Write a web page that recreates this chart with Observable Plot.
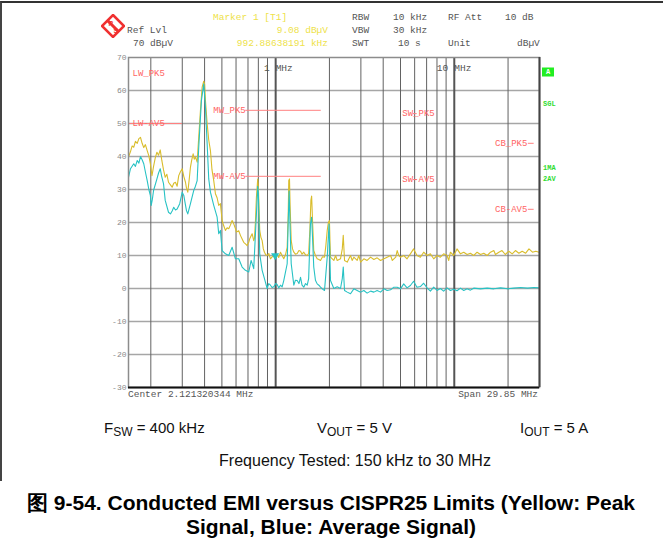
<!DOCTYPE html>
<html><head><meta charset="utf-8">
<script src="https://cdn.jsdelivr.net/npm/d3@7"></script>
<script src="https://cdn.jsdelivr.net/npm/@observablehq/plot@0.6"></script>
<style>
body{margin:0;background:#fff;}
#wrap{position:relative;width:663px;height:548px;overflow:hidden;font-family:"Liberation Sans",Arial,sans-serif;}
#chart{position:absolute;left:0;top:0;}
.t{position:absolute;white-space:pre;line-height:1;transform:translateY(-50%);}
.r{transform:translate(-100%,-50%);}
.c{transform:translate(-50%,-50%);}
.m{font-family:"Liberation Mono",monospace;font-size:9.5px;color:#555;}
.y{color:#eee24a;}
.g{font-family:"Liberation Mono",monospace;font-size:7px;font-weight:bold;color:#2fdc2f;}
.s{font-size:15px;color:#111;}
.s sub{font-size:12px;vertical-align:-3px;}
.cap{font-size:21px;font-weight:bold;color:#000;}
#border{position:absolute;left:0;top:1px;width:700px;height:478px;border-left:2px solid #444;border-top:2px solid #333;}
</style></head>
<body><div id="wrap">
<div id="border"></div>
<div id="chart"></div>
<svg style="position:absolute;left:101px;top:14px" width="24" height="24" viewBox="0 0 24 24">
  <polygon points="12,1 23,12 12,23 1,12" fill="none" stroke="#f03030" stroke-width="2.5"/>
  <line x1="6" y1="6" x2="18" y2="18" stroke="#f03030" stroke-width="3"/>
  <text x="7.5" y="12" font-size="6.5" font-weight="bold" fill="#f03030" font-family="Liberation Sans">R</text>
  <text x="12.5" y="19" font-size="6.5" font-weight="bold" fill="#f03030" font-family="Liberation Sans">S</text>
</svg>
<span class="t m" style="left:127px;top:31px">Ref Lvl</span>
<span class="t m" style="left:133px;top:44px">70 dBµV</span>
<span class="t m y" style="left:213px;top:18px">Marker 1 [T1]</span>
<span class="t m y r" style="left:328px;top:31px">9.08 dBµV</span>
<span class="t m y r" style="left:328px;top:44px">992.88638191 kHz</span>
<span class="t m" style="left:352px;top:18px">RBW</span>
<span class="t m" style="left:393px;top:18px">10 kHz</span>
<span class="t m" style="left:448px;top:18px">RF Att</span>
<span class="t m" style="left:505px;top:18px">10 dB</span>
<span class="t m" style="left:352px;top:31px">VBW</span>
<span class="t m" style="left:393px;top:31px">30 kHz</span>
<span class="t m" style="left:352px;top:44px">SWT</span>
<span class="t m" style="left:398px;top:44px">10 s</span>
<span class="t m" style="left:448px;top:44px">Unit</span>
<span class="t m" style="left:517px;top:44px">dBµV</span>
<span class="t m" style="left:128px;top:395px">Center 2.121320344 MHz</span>
<span class="t m r" style="left:538px;top:395px">Span 29.85 MHz</span>
<span class="t g" style="left:542px;top:72px;background:#22ee22;color:#fff;padding:1px 4px;">A</span>
<span class="t g" style="left:543px;top:104px">SGL</span>
<span class="t g" style="left:543px;top:168px">1MA</span>
<span class="t g" style="left:543px;top:179px">2AV</span>
<span class="t s" style="left:104px;top:429px">F<sub>SW</sub> = 400 kHz</span>
<span class="t s" style="left:317px;top:429px">V<sub>OUT</sub> = 5 V</span>
<span class="t s" style="left:520px;top:429px">I<sub>OUT</sub> = 5 A</span>
<span class="t s c" style="left:355px;top:461px;font-size:16px">Frequency Tested: 150 kHz to 30 MHz</span>
<span class="t cap c" style="left:331px;top:502px">图 9-54. Conducted EMI versus CISPR25 Limits (Yellow: Peak</span>
<span class="t cap c" style="left:331px;top:526px">Signal, Blue: Average Signal)</span>
</div>
<script>
// ---- data ----
const yTicks = [70, 60, 50, 40, 30, 20, 10, 0, -10, -20, -30];
const xGridMinor = [0.2, 0.3, 0.4, 0.5, 0.6, 0.7, 0.8, 0.9, 2, 3, 4, 5, 6, 7, 8, 9, 20];
const xGridMajor = [1, 10];
const majorLabelNums = ["1", "10"];

// Peak detector trace (MHz, dBµV)
const peakTrace = [
[0.150,39.8],[0.1539,41.5],[0.1572,43.2],[0.1605,42.8],[0.1640,44.6],[0.1679,44.0],[0.1715,45.4],[0.1751,45.8],[0.1788,44.0],[0.1826,42.7],
[0.1865,43.6],[0.1909,41.8],[0.1950,40.2],[0.1988,37.8],[0.2030,34.2],[0.2050,35.5],[0.2072,37.0],[0.2118,39.6],[0.2164,41.3],[0.2210,40.4],
[0.2258,42.0],[0.2305,38.8],[0.2355,36.0],[0.2408,33.7],[0.2460,34.6],[0.2512,32.2],[0.2576,31.4],[0.2633,30.7],[0.2688,31.9],[0.2747,32.2],
[0.2808,31.0],[0.2866,34.2],[0.2930,35.4],[0.2997,36.3],[0.3059,34.0],[0.3127,32.2],[0.3167,30.4],[0.3221,29.2],[0.3280,33.0],[0.3334,36.8],
[0.3390,39.0],[0.3452,40.8],[0.3500,39.2],[0.3556,39.8],[0.3635,38.3],[0.3710,45.9],[0.3792,53.9],[0.3876,61.0],[0.3957,62.8],[0.4000,62.0],
[0.4044,57.0],[0.4135,49.9],[0.4220,45.0],[0.4313,41.8],[0.4400,36.0],[0.4501,32.7],[0.4600,28.7],[0.4700,27.5],[0.4800,25.2],[0.4906,25.7],
[0.5014,20.6],[0.5120,19.0],[0.5233,17.6],[0.5350,18.4],[0.5461,18.1],[0.5580,19.2],[0.5705,20.6],[0.5824,19.6],[0.5953,18.2],[0.6030,17.1],
[0.6212,17.5],[0.6349,16.1],[0.6490,15.0],[0.6626,14.0],[0.6773,13.5],[0.6923,13.0],[0.7068,14.0],[0.7159,15.1],[0.7289,16.0],[0.7383,16.6],
[0.7537,14.5],[0.7605,15.1],[0.7700,20.0],[0.7803,27.7],[0.7936,33.2],[0.8000,31.0],[0.8143,17.6],[0.8270,15.5],[0.8401,14.5],[0.8530,12.0],
[0.8654,11.0],[0.8800,10.2],[0.8961,10.0],[0.9150,10.6],[0.9351,9.0],[0.9550,9.6],[0.9757,10.0],[0.9929,9.08],[1.0190,10.2],[1.0400,9.4],
[1.0640,11.0],[1.0870,10.0],[1.1100,9.0],[1.1350,10.2],[1.1600,12.5],[1.1750,22.0],[1.1840,32.7],[1.1950,33.2],[1.2050,25.0],[1.2220,14.5],
[1.2430,12.0],[1.2640,11.0],[1.2900,10.4],[1.3200,10.6],[1.3500,11.5],[1.3780,11.3],[1.4050,10.4],[1.4370,11.0],[1.4700,10.2],[1.5020,10.0],
[1.5300,10.6],[1.5550,18.0],[1.5750,26.7],[1.5900,28.0],[1.6100,20.0],[1.6340,11.5],[1.6700,10.0],[1.7080,9.0],[1.7450,8.8],[1.7830,8.5],
[1.8300,9.6],[1.8770,9.5],[1.9100,13.0],[1.9440,17.6],[1.9750,20.1],[2.0000,20.6],[2.0150,14.0],[2.0280,9.5],[2.117,8.5],[2.164,10.0],
[2.211,8.5],[2.307,9.0],[2.36,12.0],[2.39,16.1],[2.43,8.5],[2.517,8.0],[2.625,10.0],[2.68,8.5],[2.739,9.5],[2.86,8.5],
[2.92,10.0],[2.99,8.0],[3.118,9.0],[3.25,8.5],[3.40,9.5],[3.546,8.8],[3.70,9.3],[3.865,8.5],[4.04,9.0],[4.21,9.5],
[4.40,10.0],[4.50,8.5],[4.70,9.5],[4.79,11.5],[4.89,10.0],[5.00,9.5],[5.21,10.0],[5.44,9.0],[5.68,10.5],[5.92,12.0],
[6.05,11.0],[6.18,10.0],[6.46,9.5],[6.74,11.0],[7.04,10.0],[7.35,10.5],[7.67,9.0],[8.01,10.0],[8.36,9.5],[8.72,10.5],
[9.11,10.0],[9.31,8.5],[9.51,11.0],[9.93,10.0],[10.36,12.0],[10.83,10.5],[11.30,11.0],[11.80,10.3],[12.31,10.7],[12.85,10.0],
[13.42,11.0],[14.02,10.3],[14.63,10.7],[15.28,10.0],[15.96,11.0],[16.65,11.5],[17.0,10.3],[17.76,11.0],[18.5,11.5],[19.3,10.3],
[20.2,11.3],[21.1,10.5],[22.0,11.5],[23.0,10.7],[24.0,11.3],[25.1,10.7],[26.2,12.0],[27.4,11.0],[28.6,11.3],[29.8,11.0],[30,10.8]
];

// Average detector trace (MHz, dBµV)
const avgTrace = [
[0.150,33.7],[0.1539,36.3],[0.1605,37.8],[0.1640,37.0],[0.1679,38.8],[0.1715,38.0],[0.1751,40.0],[0.1788,39.0],[0.1826,37.8],[0.1870,35.0],
[0.1909,32.7],[0.1950,30.0],[0.1988,28.2],[0.2010,25.2],[0.2040,27.0],[0.2072,29.7],[0.2164,33.2],[0.2210,35.0],[0.2258,36.3],[0.2300,34.0],
[0.2355,31.8],[0.2408,26.7],[0.2512,23.1],[0.2576,22.6],[0.2633,23.5],[0.2688,24.6],[0.2747,23.8],[0.2808,24.1],[0.2903,25.7],[0.2997,29.2],
[0.3059,28.2],[0.3167,23.6],[0.3221,22.6],[0.3334,25.7],[0.3479,29.7],[0.3556,31.0],[0.3635,32.7],[0.3710,42.8],[0.3841,57.0],[0.3957,62.0],
[0.4044,55.0],[0.4135,43.8],[0.4220,33.2],[0.4313,29.2],[0.4501,25.2],[0.4702,21.6],[0.4800,16.6],[0.4906,17.6],[0.5014,11.5],[0.5233,10.5],
[0.5461,10.0],[0.5705,12.5],[0.5953,9.0],[0.6212,9.0],[0.6490,6.5],[0.6773,5.5],[0.7068,5.0],[0.7289,8.5],[0.7537,6.0],[0.7803,22.6],
[0.7936,31.0],[0.8000,29.0],[0.8143,10.5],[0.8401,5.5],[0.8654,3.0],[0.8961,0.0],[0.9150,1.5],[0.9351,1.0],[0.9550,0.3],[0.9757,0.5],
[1.000,1.5],[1.019,1.2],[1.040,0.2],[1.064,1.0],[1.087,0.5],[1.110,2.4],[1.160,7.5],[1.175,20.0],[1.190,29.5],[1.205,18.0],
[1.222,7.5],[1.264,1.0],[1.290,2.5],[1.320,2.4],[1.350,1.5],[1.378,3.4],[1.405,1.0],[1.437,0.4],[1.470,1.5],[1.502,1.0],
[1.530,3.0],[1.566,19.6],[1.590,21.6],[1.610,15.0],[1.634,6.5],[1.670,2.5],[1.708,1.4],[1.745,1.0],[1.783,0.4],[1.830,-0.2],
[1.877,-0.6],[1.944,9.5],[1.990,19.5],[2.028,2.4],[2.117,0.0],[2.211,0.5],[2.307,0.0],[2.36,3.0],[2.39,6.5],[2.43,-0.6],
[2.517,-1.1],[2.625,-1.6],[2.739,-0.1],[2.86,-0.6],[2.99,-1.1],[3.118,-0.6],[3.25,-1.4],[3.40,-0.8],[3.546,-1.1],[3.70,-0.6],
[3.865,-1.1],[4.04,-0.1],[4.21,-0.6],[4.40,-0.4],[4.59,0.4],[4.79,0.4],[5.00,-0.1],[5.21,1.4],[5.44,0.2],[5.68,0.9],
[5.92,2.2],[6.18,0.4],[6.46,0.6],[6.74,1.6],[7.04,0.2],[7.35,-0.8],[7.67,0.4],[8.01,-0.6],[8.36,0.0],[8.72,-0.8],
[9.11,0.2],[9.51,-0.6],[9.93,-0.2],[10.36,-0.7],[10.83,0.1],[11.30,-0.6],[11.80,-0.1],[12.31,-0.5],[12.85,0.1],[14.02,-0.1],
[15.28,0.1],[16.65,-0.1],[18.17,0.2],[19.87,-0.1],[21.55,0.1],[23.50,0.3],[25.71,0.1],[27.89,0.3],[30,0.2]
];

// CISPR 25 class 5 limit lines
const limitNames  = ["LW_PK5", "LW-AV5", "MW_PK5", "MW-AV5", "SW_PK5", "SW-AV5", "CB_PK5", "CB-AV5"];
const limitLevels = [70, 50, 54, 34, 53, 33, 44, 24];
const limitStart  = [0.15, 0.15, 0.68, 0.68, 5.9, 5.9, 26, 26];
const limitEnd    = [0.30, 0.30, 1.8, 1.8, 6.2, 6.2, 28, 28];

const markerFreq = [0.99288638191];
const markerLevel = [9.08];

// ---- build ----
const peak = peakTrace.map(([f, v]) => ({f, v}));
const avg = avgTrace.map(([f, v]) => ({f, v}));
const limits = limitNames.map((name, i) => ({name, level: limitLevels[i], f1: limitStart[i], f2: limitEnd[i], band: name.slice(0, 2)}));
const markers = markerFreq.map((f, i) => ({f, v: markerLevel[i]}));
const mono = "Liberation Mono, monospace";
const limColor = "#ff8080";
const limText = "#ff6464";

const chart = Plot.plot({
  width: 663, height: 548,
  marginLeft: 128, marginRight: 124, marginTop: 57, marginBottom: 161,
  x: {type: "log", domain: [0.15, 30], axis: null},
  y: {domain: [-30, 70], axis: null},
  style: {background: "transparent"},
  marks: [
    Plot.ruleY(yTicks.filter(d => d > -30 && d < 70), {y: d => d, stroke: "#a6a6a6", strokeWidth: 1.5}),
    Plot.ruleX(xGridMinor, {x: d => d, stroke: "#626262", strokeWidth: 1}),
    Plot.ruleX(xGridMajor, {x: d => d, stroke: "#555", strokeWidth: 2}),
    Plot.ruleY(limits, {y: "level", x1: "f1", x2: "f2", stroke: limColor, strokeWidth: 1}),
    Plot.text(limits.filter(d => d.band === "LW" && d.level < 70), {x: "f1", y: "level", text: "name", textAnchor: "start", dx: 4, fill: limText, fontFamily: mono, fontSize: 9}),
    Plot.text(limits.filter(d => d.band === "LW" && d.level >= 70), {x: "f1", y: "level", text: "name", textAnchor: "start", dx: 4, dy: 16, fill: limText, fontFamily: mono, fontSize: 9}),
    Plot.text(limits.filter(d => d.band === "MW"), {x: "f1", y: "level", text: "name", textAnchor: "end", dx: 0, fill: limText, fontFamily: mono, fontSize: 9}),
    Plot.text(limits.filter(d => d.band === "SW"), {x: "f1", y: "level", text: "name", textAnchor: "start", dx: -11, fill: limText, fontFamily: mono, fontSize: 9}),
    Plot.text(limits.filter(d => d.band === "CB"), {x: "f1", y: "level", text: "name", textAnchor: "end", dx: -1, fill: limText, fontFamily: mono, fontSize: 9}),
    Plot.line(peak, {x: "f", y: "v", stroke: "#d9bd2c", strokeWidth: 1.1}),
    Plot.line(avg, {x: "f", y: "v", stroke: "#27c2c4", strokeWidth: 1.1}),
    Plot.dot(markers, {x: "f", y: "v", symbol: "triangle", rotate: 180, r: 3, fill: "#27c2c4", dy: -3}),
    Plot.text(xGridMajor, {x: d => d, text: (d, i) => majorLabelNums[i], frameAnchor: "top", dy: 7, textAnchor: "end", dx: -6, fill: "#555", fontFamily: mono, fontSize: 9.5}),
    Plot.text(xGridMajor, {x: d => d, text: () => "MHz", frameAnchor: "top", dy: 7, textAnchor: "start", dx: 0, fill: "#555", fontFamily: mono, fontSize: 9.5}),
    Plot.text(yTicks, {y: d => d, text: d => String(d), frameAnchor: "left", textAnchor: "end", dx: -2, fill: "#8a8a8a", fontFamily: mono, fontSize: 8}),
    Plot.frame({stroke: "#8c8c8c", strokeWidth: 1.5}),
    Plot.ruleY([-30], {y: d => d, stroke: "#111", strokeWidth: 2}),
    Plot.ruleX([30], {x: d => d, stroke: "#444", strokeWidth: 2})
  ]
});
document.getElementById("chart").appendChild(chart);
</script>
</body></html>
